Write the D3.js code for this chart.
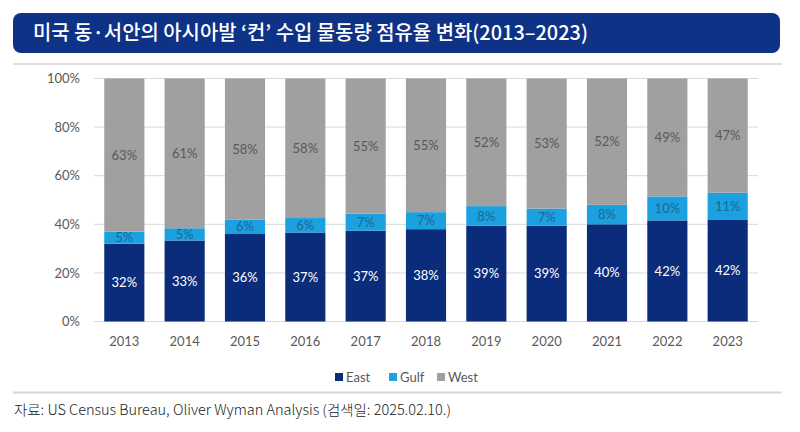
<!DOCTYPE html>
<html>
<head>
<meta charset="utf-8">
<script src="https://cdn.jsdelivr.net/npm/d3@7/dist/d3.min.js"></script>
<style>
  html, body { margin: 0; padding: 0; background: #fff; }
  svg { display: block; }
</style>
</head>
<body>
<svg id="chart" width="800" height="432"></svg>
<script>
// datos
const years = ['2013','2014','2015','2016','2017','2018','2019','2020','2021','2022','2023'];
const east  = [32, 33, 36, 37, 37, 38, 39, 39, 40, 42, 42];
const gulf  = [5, 5, 6, 6, 7, 7, 8, 7, 8, 10, 11];
const west  = [63, 61, 58, 58, 55, 55, 52, 53, 52, 49, 47];
const seriesNames = ['East', 'Gulf', 'West'];
const yTicks = [0, 0.2, 0.4, 0.6, 0.8, 1];

const titleText = '미국 동·서안의 아시아발 ‘컨’ 수입 물동량 점유율 변화(2013–2023)';
const sourceText = '자료: US Census Bureau, Oliver Wyman Analysis (검색일: 2025.02.10.)';

const colors = { East: '#0b2c7a', Gulf: '#1ba1df', West: '#a0a0a0' };
const labelColors = { East: '#ffffff', Gulf: '#1d6894', West: '#595959' };
const chartFont = 'Lato, "Open Sans", sans-serif';

const svg = d3.select('#chart');

// --- cabecera ---
svg.append('rect')
  .attr('x', 13).attr('y', 13).attr('width', 767).attr('height', 40)
  .attr('rx', 8).attr('ry', 8)
  .attr('fill', '#0e3286');
svg.append('text')
  .attr('x', 33).attr('y', 40)
  .attr('fill', '#fff')
  .attr('font-family', '"Noto Sans CJK KR", sans-serif')
  .attr('font-weight', 500)
  .attr('font-size', 20)
  .attr('textLength', 555).attr('lengthAdjust', 'spacingAndGlyphs')
  .text(titleText);

svg.append('line').attr('x1', 13).attr('x2', 782).attr('y1', 64).attr('y2', 64)
  .attr('stroke', '#d6d6d6').attr('stroke-width', 1.5);
svg.append('line').attr('x1', 13).attr('x2', 782).attr('y1', 392.5).attr('y2', 392.5)
  .attr('stroke', '#d6d6d6').attr('stroke-width', 2);

// --- tabla para el stack ---
const table = years.map((y, i) => ({ year: y, East: east[i], Gulf: gulf[i], West: west[i] }));
const stack = d3.stack().keys(seriesNames).offset(d3.stackOffsetExpand);
const layers = stack(table);

const x = d3.scaleBand().domain(years).range([94, 758]).paddingInner(0.335).paddingOuter(0.17);
const y = d3.scaleLinear().domain([0, 1]).range([321.5, 78.5]);

const g = svg.append('g');

// grilla
g.append('g')
  .selectAll('line')
  .data(yTicks)
  .join('line')
  .attr('x1', 94).attr('x2', 758)
  .attr('y1', d => y(d)).attr('y2', d => y(d))
  .attr('stroke', '#d9d9d9').attr('stroke-width', 1);

// eje Y
const yAxis = d3.axisLeft(y).tickValues(yTicks).tickFormat(d3.format('.0%')).tickSize(0).tickPadding(0);
g.append('g')
  .attr('transform', 'translate(80,0)')
  .call(yAxis)
  .call(s => s.select('.domain').remove())
  .selectAll('text')
  .attr('fill', '#595959').attr('font-size', 13).attr('font-family', chartFont);

// eje X
const xAxis = d3.axisBottom(x).tickSize(0).tickPadding(0);
g.append('g')
  .attr('transform', 'translate(0,337)')
  .call(xAxis)
  .call(s => s.select('.domain').remove())
  .selectAll('text')
  .attr('fill', '#595959').attr('font-size', 13).attr('font-family', chartFont);

// barras
const layerG = g.append('g').selectAll('g')
  .data(layers)
  .join('g')
  .attr('fill', d => colors[d.key]);

layerG.selectAll('rect')
  .data(d => d)
  .join('rect')
  .attr('x', d => x(d.data.year))
  .attr('width', x.bandwidth())
  .attr('y', d => y(d[1]))
  .attr('height', d => y(d[0]) - y(d[1]));

// etiquetas
g.append('g').selectAll('g')
  .data(layers)
  .join('g')
  .each(function (layer) {
    d3.select(this).selectAll('text')
      .data(layer)
      .join('text')
      .attr('x', d => x(d.data.year) + x.bandwidth() / 2)
      .attr('y', d => (y(d[0]) + y(d[1])) / 2)
      .attr('dy', '0.35em')
      .attr('text-anchor', 'middle')
      .attr('font-family', chartFont)
      .attr('font-size', 13)
      .attr('fill', labelColors[layer.key])
      .text(d => d.data[layer.key] + '%');
  });

// leyenda
const legendItems = [
  { key: 'East', x: 335 },
  { key: 'Gulf', x: 389 },
  { key: 'West', x: 437 }
];
const legend = svg.append('g').attr('transform', 'translate(0,377)');
const li = legend.selectAll('g').data(legendItems).join('g')
  .attr('transform', d => `translate(${d.x},0)`);
li.append('rect').attr('x', 0).attr('y', -4).attr('width', 8).attr('height', 8)
  .attr('fill', d => colors[d.key]);
li.append('text').attr('x', 11).attr('y', 0).attr('dy', '0.35em')
  .attr('font-family', chartFont).attr('font-size', 13).attr('fill', '#595959')
  .text(d => d.key);

// fuente
svg.append('text')
  .attr('x', 14).attr('y', 415)
  .attr('fill', '#222')
  .attr('font-family', '"Noto Sans CJK KR", sans-serif')
  .attr('font-weight', 300)
  .attr('font-size', 14)
  .attr('textLength', 437).attr('lengthAdjust', 'spacingAndGlyphs')
  .text(sourceText);
</script>
</body>
</html>
